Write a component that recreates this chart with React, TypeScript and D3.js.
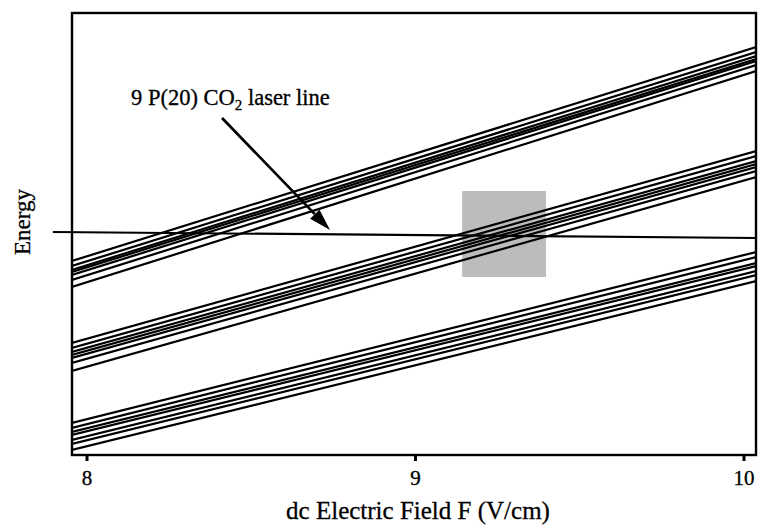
import React from "react";
import * as d3 from "d3";

// x range of the plotted field (V/cm)
const fieldStart = 7.954;
const fieldEnd = 10.037;
const xTicks = [8, 9, 10];

// Energy (arbitrary units) of each Stark-shifted level at fieldStart / fieldEnd
const bundleTopStart = [194, 189, 185, 183, 180, 175, 168];
const bundleTopEnd = [408, 403, 399, 396, 394, 390, 384];
const bundleMidStart = [112, 107, 103, 100, 97, 92, 84];
const bundleMidEnd = [304, 299, 294, 291, 288, 284, 278];
const bundleLowStart = [32, 27, 23, 20, 15, 11, 5];
const bundleLowEnd = [203, 198, 192, 189, 184, 180, 174];

// CO2 laser line: [field, energy]
const laserLine: [number, number][] = [
  [7.896, 223],
  [10.037, 217],
];
// shaded resonance region
const regionField = [9.142, 9.397];
const regionEnergy = [178, 264];
// annotation arrow [field, energy]
const arrowFrom: [number, number] = [8.411, 337];
const arrowTo: [number, number] = [8.74, 225];

const W = 759;
const H = 527;
const left = 72;
const right = 756;
const top = 13;
const bottom = 455;

export default function App() {
  const x = d3
    .scaleLinear()
    .domain([8, 10])
    .range([87, 744]);
  const y = d3.scaleLinear().domain([0, 442]).range([bottom, top]);
  const line = d3
    .line<[number, number]>()
    .x((d) => x(d[0]))
    .y((d) => y(d[1]));

  const bundles = [
    [bundleTopStart, bundleTopEnd],
    [bundleMidStart, bundleMidEnd],
    [bundleLowStart, bundleLowEnd],
  ];

  const ax = x(arrowFrom[0]);
  const ay = y(arrowFrom[1]);
  const bx = x(arrowTo[0]);
  const by = y(arrowTo[1]);
  const ang = Math.atan2(by - ay, bx - ax);
  const hl = 22;
  const hw = 6.5;
  const baseX = bx - hl * Math.cos(ang);
  const baseY = by - hl * Math.sin(ang);
  const px = -Math.sin(ang);
  const py = Math.cos(ang);
  const head = `M${bx},${by}L${baseX + hw * px},${baseY + hw * py}L${baseX - hw * px},${baseY - hw * py}Z`;

  const font = "'Liberation Serif', 'DejaVu Serif', serif";

  return (
    <svg
      width={W}
      height={H}
      style={{ position: "absolute", left: 0, top: 0, background: "#fff" }}
      fontFamily={font}
    >
      <defs>
        <clipPath id="plot">
          <rect x={left} y={top} width={right - left} height={bottom - top} />
        </clipPath>
      </defs>
      <rect
        x={x(regionField[0])}
        y={y(regionEnergy[1])}
        width={x(regionField[1]) - x(regionField[0])}
        height={y(regionEnergy[0]) - y(regionEnergy[1])}
        fill="#bcbcbc"
      />
      <g clipPath="url(#plot)">
        {bundles.map(([s, e], bi) =>
          s.map((v, i) => (
            <path
              key={`${bi}-${i}`}
              d={line([
                [fieldStart, v],
                [fieldEnd, e[i]],
              ]) as string}
              stroke="#000"
              strokeWidth={2.2}
              fill="none"
            />
          ))
        )}
      </g>
      <path d={line(laserLine) as string} stroke="#000" strokeWidth={2.2} fill="none" />
      <line x1={ax} y1={ay} x2={baseX} y2={baseY} stroke="#000" strokeWidth={2.7} />
      <path d={head} fill="#000" />
      <text x={131} y={105} fontSize={22.5} stroke="#000" strokeWidth={0.3}>
        9 P(20) CO
        <tspan fontSize={15} dy={5}>2</tspan>
        <tspan dy={-5}> laser line</tspan>
      </text>
      <rect
        x={left}
        y={top}
        width={right - left}
        height={bottom - top}
        fill="none"
        stroke="#000"
        strokeWidth={2.4}
      />
      {xTicks.map((t) => (
        <g key={t}>
          <line x1={x(t)} x2={x(t)} y1={bottom} y2={bottom + 6} stroke="#000" strokeWidth={3} />
          <text x={x(t)} y={485} fontSize={21} textAnchor="middle" stroke="#000" strokeWidth={0.3}>
            {t}
          </text>
        </g>
      ))}
      <text x={418} y={519} fontSize={25} textAnchor="middle" stroke="#000" strokeWidth={0.3}>
        dc Electric Field F (V/cm)
      </text>
      <text
        transform={`translate(30,222) rotate(-90)`}
        fontSize={23}
        textAnchor="middle"
        stroke="#000"
        strokeWidth={0.3}
      >
        Energy
      </text>
    </svg>
  );
}
